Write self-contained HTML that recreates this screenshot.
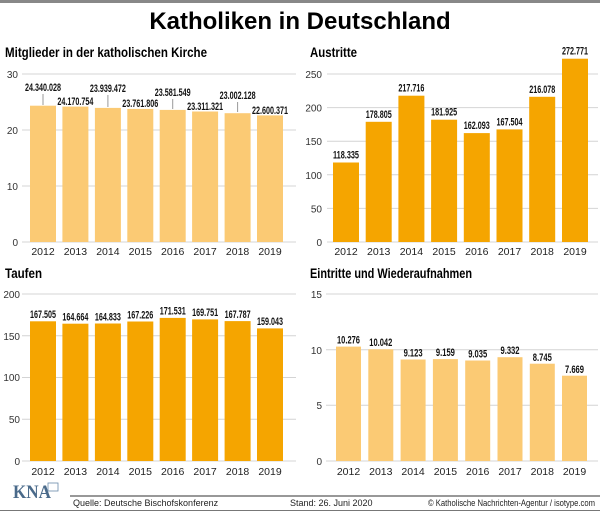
<!DOCTYPE html>
<html><head><meta charset="utf-8"><style>
html,body{margin:0;padding:0;background:#fff;}
svg{display:block;font-family:"Liberation Sans",Arial,sans-serif;}
.yl{font-size:10px;fill:#333;text-anchor:end;}
.yr{font-size:10.5px;fill:#222;text-anchor:middle;}
.v{font-size:11px;font-weight:bold;fill:#111;text-anchor:middle;}
.pt{font-size:13.5px;font-weight:bold;fill:#000;}
.g{stroke:#d4d4d4;stroke-width:1;}
.f{font-size:9px;fill:#222;}
</style></head><body>
<svg width="600" height="512" viewBox="0 0 600 512" xmlns="http://www.w3.org/2000/svg">
<rect x="0" y="0" width="600" height="3" fill="#888"/>
<text x="300" y="29" text-anchor="middle" font-size="24" font-weight="bold" fill="#000">Katholiken in Deutschland</text>

<!-- Panel 1 -->
<text class="pt" x="5" y="57" textLength="202" lengthAdjust="spacingAndGlyphs">Mitglieder in der katholischen Kirche</text>
<g class="g"><line x1="22" y1="74" x2="296" y2="74"/><line x1="22" y1="130" x2="296" y2="130"/><line x1="22" y1="186" x2="296" y2="186"/><line x1="22" y1="242" x2="296" y2="242"/></g>
<g class="yl"><text x="18" y="78">30</text><text x="18" y="134">20</text><text x="18" y="190">10</text><text x="18" y="246">0</text></g>
<g fill="#fbca74">
<rect x="30" y="105.7" width="26" height="136.3"/><rect x="62.4" y="106.6" width="26" height="135.4"/><rect x="94.9" y="107.9" width="26" height="134.1"/><rect x="127.3" y="108.9" width="26" height="133.1"/><rect x="159.7" y="109.9" width="26" height="132.1"/><rect x="192.1" y="111.5" width="26" height="130.5"/><rect x="224.6" y="113.2" width="26" height="128.8"/><rect x="257" y="115.4" width="26" height="126.6"/>
</g>
<g stroke="#999" stroke-width="1"><line x1="43" y1="94" x2="43" y2="105"/><line x1="107.9" y1="95" x2="107.9" y2="107"/><line x1="172.7" y1="99" x2="172.7" y2="109"/><line x1="237.6" y1="102" x2="237.6" y2="112"/></g>
<g class="v">
<text x="43" y="91" textLength="36" lengthAdjust="spacingAndGlyphs">24.340.028</text>
<text x="75.4" y="105" textLength="36" lengthAdjust="spacingAndGlyphs">24.170.754</text>
<text x="107.9" y="92" textLength="36" lengthAdjust="spacingAndGlyphs">23.939.472</text>
<text x="140.3" y="107" textLength="36" lengthAdjust="spacingAndGlyphs">23.761.806</text>
<text x="172.7" y="96" textLength="36" lengthAdjust="spacingAndGlyphs">23.581.549</text>
<text x="205.1" y="110" textLength="36" lengthAdjust="spacingAndGlyphs">23.311.321</text>
<text x="237.6" y="99" textLength="36" lengthAdjust="spacingAndGlyphs">23.002.128</text>
<text x="270" y="114" textLength="36" lengthAdjust="spacingAndGlyphs">22.600.371</text>
</g>
<g class="yr"><text x="43" y="255">2012</text><text x="75.4" y="255">2013</text><text x="107.9" y="255">2014</text><text x="140.3" y="255">2015</text><text x="172.7" y="255">2016</text><text x="205.1" y="255">2017</text><text x="237.6" y="255">2018</text><text x="270" y="255">2019</text></g>

<!-- Panel 2 -->
<text class="pt" x="310" y="57" textLength="47" lengthAdjust="spacingAndGlyphs">Austritte</text>
<g class="g"><line x1="327" y1="74" x2="598" y2="74"/><line x1="327" y1="107.6" x2="598" y2="107.6"/><line x1="327" y1="141.2" x2="598" y2="141.2"/><line x1="327" y1="174.8" x2="598" y2="174.8"/><line x1="327" y1="208.4" x2="598" y2="208.4"/><line x1="327" y1="242" x2="598" y2="242"/></g>
<g class="yl"><text x="322" y="78">250</text><text x="322" y="111.6">200</text><text x="322" y="145.2">150</text><text x="322" y="178.8">100</text><text x="322" y="212.4">50</text><text x="322" y="246">0</text></g>
<g fill="#f5a500">
<rect x="333" y="162.5" width="26" height="79.5"/><rect x="365.7" y="121.8" width="26" height="120.2"/><rect x="398.4" y="95.7" width="26" height="146.3"/><rect x="431.1" y="119.7" width="26" height="122.3"/><rect x="463.8" y="133.1" width="26" height="108.9"/><rect x="496.5" y="129.4" width="26" height="112.6"/><rect x="529.2" y="96.8" width="26" height="145.2"/><rect x="562" y="58.7" width="26" height="183.3"/>
</g>
<g class="v">
<text x="346" y="158.5" textLength="26" lengthAdjust="spacingAndGlyphs">118.335</text>
<text x="378.7" y="117.8" textLength="26" lengthAdjust="spacingAndGlyphs">178.805</text>
<text x="411.4" y="91.7" textLength="26" lengthAdjust="spacingAndGlyphs">217.716</text>
<text x="444.1" y="115.7" textLength="26" lengthAdjust="spacingAndGlyphs">181.925</text>
<text x="476.8" y="129.1" textLength="26" lengthAdjust="spacingAndGlyphs">162.093</text>
<text x="509.5" y="125.4" textLength="26" lengthAdjust="spacingAndGlyphs">167.504</text>
<text x="542.2" y="92.8" textLength="26" lengthAdjust="spacingAndGlyphs">216.078</text>
<text x="575" y="54.7" textLength="26" lengthAdjust="spacingAndGlyphs">272.771</text>
</g>
<g class="yr"><text x="346" y="255">2012</text><text x="378.7" y="255">2013</text><text x="411.4" y="255">2014</text><text x="444.1" y="255">2015</text><text x="476.8" y="255">2016</text><text x="509.5" y="255">2017</text><text x="542.2" y="255">2018</text><text x="575" y="255">2019</text></g>

<!-- Panel 3 -->
<text class="pt" x="5" y="278" textLength="37" lengthAdjust="spacingAndGlyphs">Taufen</text>
<g class="g"><line x1="22" y1="294" x2="296" y2="294"/><line x1="22" y1="335.75" x2="296" y2="335.75"/><line x1="22" y1="377.5" x2="296" y2="377.5"/><line x1="22" y1="419.25" x2="296" y2="419.25"/><line x1="22" y1="461" x2="296" y2="461"/></g>
<g class="yl"><text x="20" y="298">200</text><text x="20" y="340">150</text><text x="20" y="381">100</text><text x="20" y="423">50</text><text x="20" y="465">0</text></g>
<g fill="#f5a500">
<rect x="30" y="321.3" width="26" height="139.7"/><rect x="62.4" y="323.7" width="26" height="137.3"/><rect x="94.9" y="323.5" width="26" height="137.5"/><rect x="127.3" y="321.5" width="26" height="139.5"/><rect x="159.7" y="317.9" width="26" height="143.1"/><rect x="192.1" y="319.4" width="26" height="141.6"/><rect x="224.6" y="321.1" width="26" height="139.9"/><rect x="257" y="328.4" width="26" height="132.6"/>
</g>
<g class="v">
<text x="43" y="318" textLength="26" lengthAdjust="spacingAndGlyphs">167.505</text>
<text x="75.4" y="320.5" textLength="26" lengthAdjust="spacingAndGlyphs">164.664</text>
<text x="107.9" y="320.3" textLength="26" lengthAdjust="spacingAndGlyphs">164.833</text>
<text x="140.3" y="318.3" textLength="26" lengthAdjust="spacingAndGlyphs">167.226</text>
<text x="172.7" y="314.7" textLength="26" lengthAdjust="spacingAndGlyphs">171.531</text>
<text x="205.1" y="316.2" textLength="26" lengthAdjust="spacingAndGlyphs">169.751</text>
<text x="237.6" y="317.9" textLength="26" lengthAdjust="spacingAndGlyphs">167.787</text>
<text x="270" y="325.2" textLength="26" lengthAdjust="spacingAndGlyphs">159.043</text>
</g>
<g class="yr"><text x="43" y="475">2012</text><text x="75.4" y="475">2013</text><text x="107.9" y="475">2014</text><text x="140.3" y="475">2015</text><text x="172.7" y="475">2016</text><text x="205.1" y="475">2017</text><text x="237.6" y="475">2018</text><text x="270" y="475">2019</text></g>

<!-- Panel 4 -->
<text class="pt" x="310" y="278" textLength="162" lengthAdjust="spacingAndGlyphs">Eintritte und Wiederaufnahmen</text>
<g class="g"><line x1="326" y1="294" x2="598" y2="294"/><line x1="326" y1="349.7" x2="598" y2="349.7"/><line x1="326" y1="405.3" x2="598" y2="405.3"/><line x1="326" y1="461" x2="598" y2="461"/></g>
<g class="yl"><text x="322" y="298">15</text><text x="322" y="354">10</text><text x="322" y="409">5</text><text x="322" y="465">0</text></g>
<g fill="#fbca74">
<rect x="336" y="346.6" width="25" height="114.4"/><rect x="368.3" y="349.3" width="25" height="111.7"/><rect x="400.6" y="359.5" width="25" height="101.5"/><rect x="432.9" y="359.1" width="25" height="101.9"/><rect x="465.2" y="360.5" width="25" height="100.5"/><rect x="497.5" y="357.2" width="25" height="103.8"/><rect x="529.8" y="363.7" width="25" height="97.3"/><rect x="562" y="375.7" width="25" height="85.3"/>
</g>
<g class="v">
<text x="348.5" y="343.5" textLength="23" lengthAdjust="spacingAndGlyphs">10.276</text>
<text x="380.8" y="346" textLength="23" lengthAdjust="spacingAndGlyphs">10.042</text>
<text x="413.1" y="356.5" textLength="19" lengthAdjust="spacingAndGlyphs">9.123</text>
<text x="445.4" y="356" textLength="19" lengthAdjust="spacingAndGlyphs">9.159</text>
<text x="477.7" y="357.5" textLength="19" lengthAdjust="spacingAndGlyphs">9.035</text>
<text x="510" y="354" textLength="19" lengthAdjust="spacingAndGlyphs">9.332</text>
<text x="542.3" y="360.8" textLength="19" lengthAdjust="spacingAndGlyphs">8.745</text>
<text x="574.5" y="372.8" textLength="19" lengthAdjust="spacingAndGlyphs">7.669</text>
</g>
<g class="yr"><text x="348.5" y="475">2012</text><text x="380.8" y="475">2013</text><text x="413.1" y="475">2014</text><text x="445.4" y="475">2015</text><text x="477.7" y="475">2016</text><text x="510" y="475">2017</text><text x="542.3" y="475">2018</text><text x="574.5" y="475">2019</text></g>

<!-- Footer -->
<text x="13" y="498" font-family="Liberation Serif,serif" font-size="19" font-weight="bold" fill="#4a6a8a" textLength="38" lengthAdjust="spacingAndGlyphs">KNA</text>
<rect x="48" y="483" width="10" height="8" fill="#fff" stroke="#6a8aaa" stroke-width="0.8"/>
<line x1="70" y1="496" x2="600" y2="496" stroke="#777" stroke-width="1.5"/>
<text class="f" x="73" y="506">Quelle: Deutsche Bischofskonferenz</text>
<text class="f" x="290" y="506">Stand: 26. Juni 2020</text>
<text class="f" x="428" y="506" textLength="167" lengthAdjust="spacingAndGlyphs">© Katholische Nachrichten-Agentur / isotype.com</text>
<line x1="0" y1="510.5" x2="600" y2="510.5" stroke="#777" stroke-width="1"/>
</svg>
</body></html>
